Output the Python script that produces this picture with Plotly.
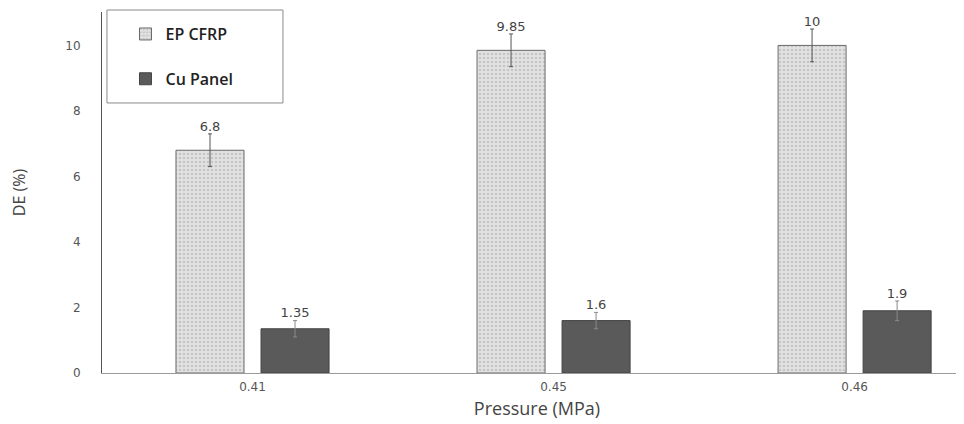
import plotly.graph_objects as go

categories = ["0.41", "0.45", "0.46"]
ep_cfrp = [6.8, 9.85, 10]
ep_err = [0.5, 0.5, 0.5]
cu_panel = [1.35, 1.6, 1.9]
cu_err = [0.25, 0.25, 0.3]
y_ticks = [0, 2, 4, 6, 8, 10]

fig = go.Figure()
fig.add_trace(go.Bar(
    name="EP CFRP", x=categories, y=ep_cfrp, legendgroup="a",
    marker=dict(color="#dcdcdc", line=dict(color="#6a6a6a", width=1),
                pattern=dict(shape=".", fgcolor="#a8a8a8", bgcolor="#e2e2e2", size=4, solidity=0.35)),
    error_y=dict(type="data", array=ep_err, color="#555555", thickness=1, width=2),
))
fig.add_trace(go.Bar(
    name="Cu Panel", x=categories, y=cu_panel, legendgroup="b",
    marker=dict(color="#5a5a5a", line=dict(color="#444444", width=1)),
    error_y=dict(type="data", array=cu_err, color="#8a8a8a", thickness=1, width=2),
))
fig.add_trace(go.Scatter(
    x=categories, y=[v + e for v, e in zip(ep_cfrp, ep_err)], mode="text",
    text=[f"{v:g}" for v in ep_cfrp], textposition="top center",
    textfont=dict(family="DejaVu Sans", size=13, color="#444444"),
    showlegend=False, xaxis="x2", hoverinfo="skip"))
fig.add_trace(go.Scatter(
    x=categories, y=[v + e for v, e in zip(cu_panel, cu_err)], mode="text",
    text=[f"{v:g}" for v in cu_panel], textposition="top center",
    textfont=dict(family="DejaVu Sans", size=13, color="#444444"),
    showlegend=False, xaxis="x3", hoverinfo="skip"))

x_range = [-0.5, 2.39]
# offsets of the bar centres within each category (bargap 0.435, 2 bars)
off = 0.1411
fig.update_layout(
    width=964, height=424,
    margin=dict(l=94, r=0, t=4, b=59),
    paper_bgcolor="white", plot_bgcolor="white",
    barmode="group", bargap=0.435, bargroupgap=0.2,
    showlegend=True,
    legend=dict(x=0.027, y=0.986, xanchor="left", yanchor="top",
                font=dict(family="Open Sans", size=16, color="#222222", weight=600),
                tracegroupgap=21, bgcolor="rgba(0,0,0,0)"),
    xaxis=dict(range=x_range, showline=True, linecolor="#9a9a9a", linewidth=1, automargin=False,
               ticks="", ticklabelstandoff=3,
               tickfont=dict(family="DejaVu Sans", size=12, color="#555555"),
               title=dict(text="Pressure (MPa)", font=dict(family="Open Sans", size=18, color="#444444"), standoff=8)),
    xaxis2=dict(overlaying="x", range=[x_range[0] + off, x_range[1] + off], visible=False),
    xaxis3=dict(overlaying="x", range=[x_range[0] - off, x_range[1] - off], visible=False),
    yaxis=dict(range=[0, 11.02], tickvals=y_ticks, showgrid=False, zeroline=False, automargin=False,
               showline=True, linecolor="#555555", linewidth=1, ticks="",
               ticklabelstandoff=18,
               tickfont=dict(family="DejaVu Sans", size=12, color="#555555"),
               title=dict(text="DE (%)", font=dict(family="Open Sans", size=16, color="#444444"), standoff=36)),
    shapes=[dict(type="rect", xref="paper", yref="paper", x0=0.0057, x1=0.208, y0=0.748, y1=1.0055,
                 line=dict(color="#8a8a8a", width=1), fillcolor="rgba(0,0,0,0)")],
)
fig.write_html("out.html")
